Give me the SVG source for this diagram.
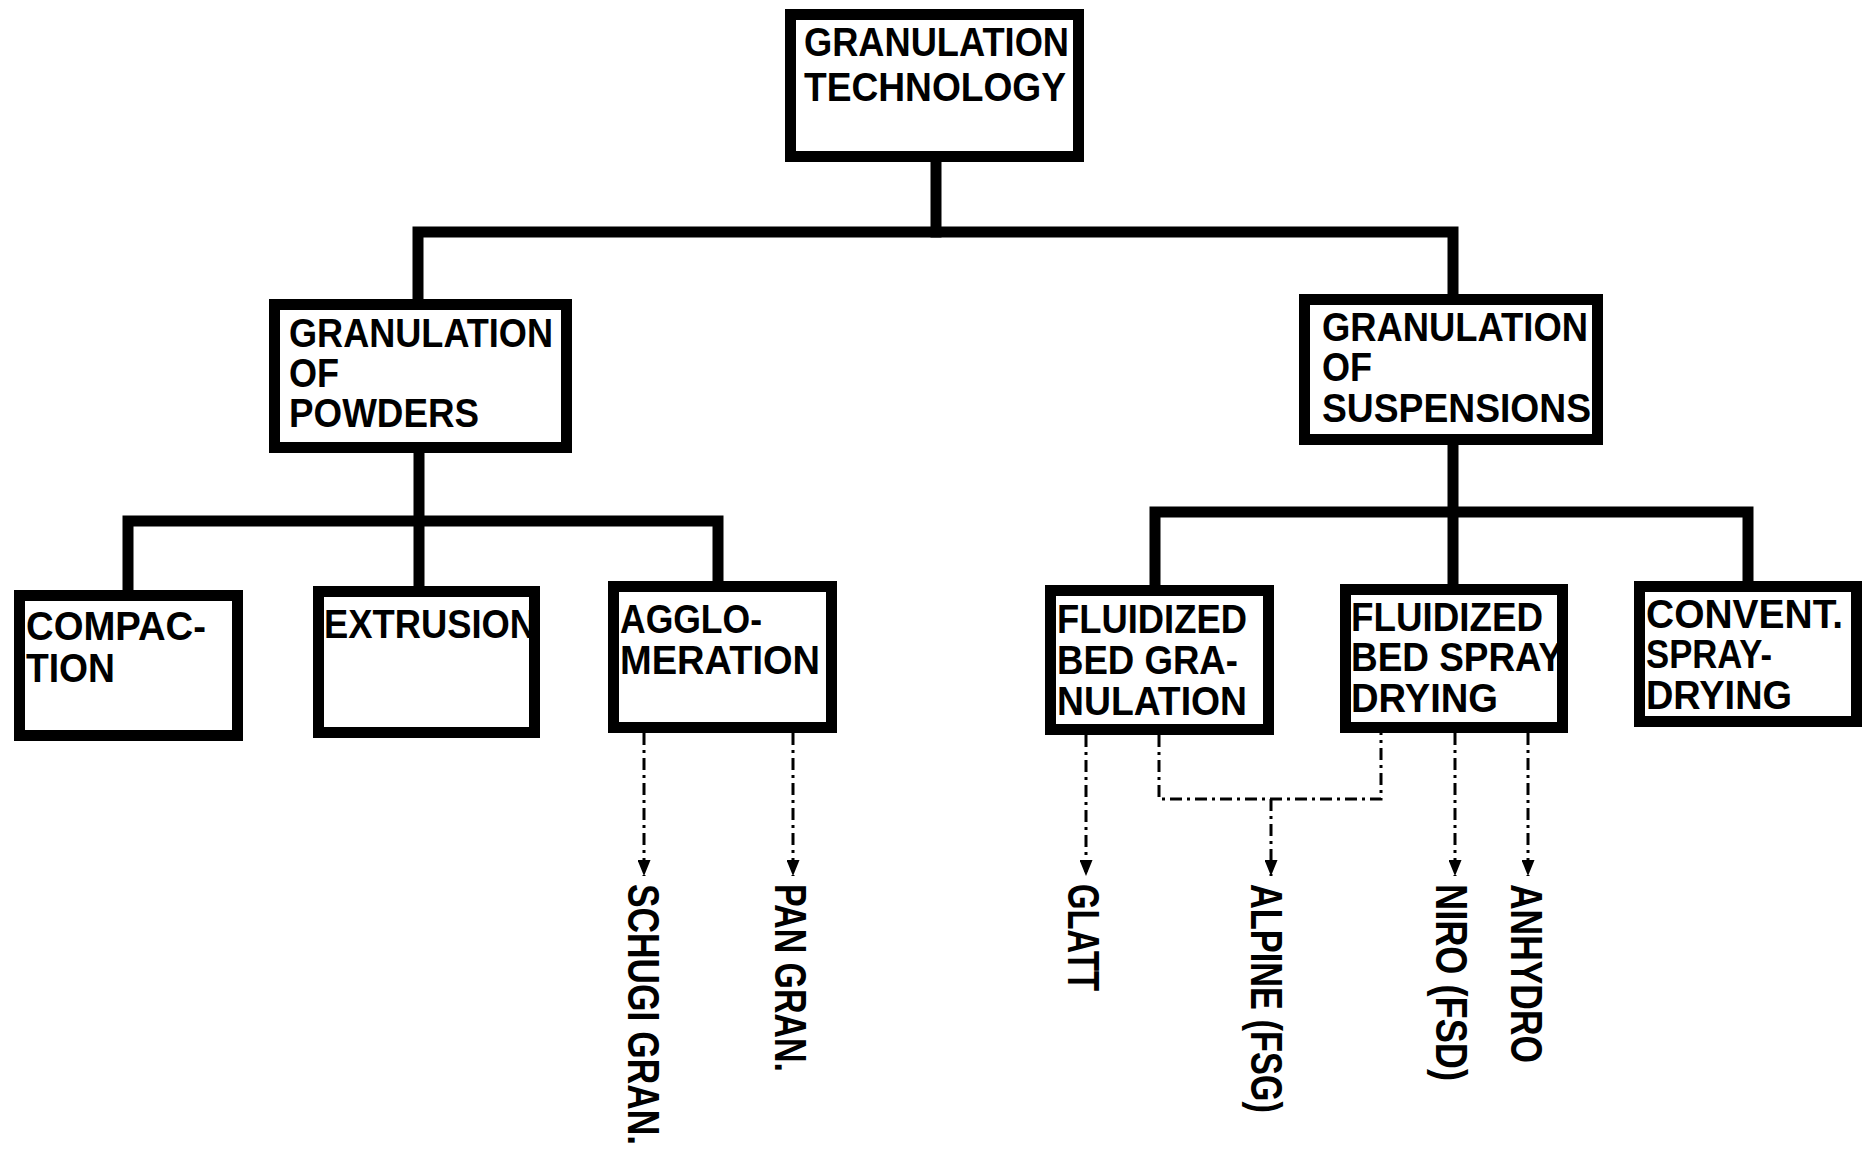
<svg xmlns="http://www.w3.org/2000/svg" width="1867" height="1152" viewBox="0 0 1867 1152">
  <style>
    .box { fill: #fff; stroke: #000; stroke-width: 11; stroke-linejoin: miter; }
    .tree { fill: none; stroke: #000; stroke-width: 11; stroke-linejoin: miter; stroke-linecap: square; }
    .lead { fill: none; stroke: #000; stroke-width: 3; stroke-dasharray: 12 5 3 5; }
    .lbl { font-family: "Liberation Sans", Arial, sans-serif; font-weight: bold; font-size: 40px; fill: #000; }
    .maker { font-family: "Liberation Sans", Arial, sans-serif; font-weight: bold; font-size: 44px; fill: #000; }
  </style>
  <defs>
    <marker id="tip" markerUnits="userSpaceOnUse" markerWidth="16" markerHeight="13" viewBox="0 0 16 13" refX="16" refY="6.5" orient="auto">
      <path d="M0,0 L16,6.5 L0,13 z" fill="#000"/>
    </marker>
  </defs>
  <rect width="1867" height="1152" fill="#fff"/>

  <!-- tree connectors and supplier leads -->
  <g id="connectors">
    <path class="tree" d="M936,162 V232"/>
    <path class="tree" d="M418,299 V232 H1453 V294"/>
    <path class="tree" d="M419,453 V586"/>
    <path class="tree" d="M128,590 V521 H718 V581"/>
    <path class="tree" d="M1453,445 V584"/>
    <path class="tree" d="M1155,585 V512 H1748 V581"/>

    <path class="lead" d="M644,733 V876" marker-end="url(#tip)"/>
    <path class="lead" d="M793,733 V876" marker-end="url(#tip)"/>
    <path class="lead" d="M1086,735 V876" marker-end="url(#tip)"/>
    <path class="lead" d="M1159,735 V799 H1381 V733"/>
    <path class="lead" d="M1271,799 V876" marker-end="url(#tip)"/>
    <path class="lead" d="M1455,733 V876" marker-end="url(#tip)"/>
    <path class="lead" d="M1528,733 V876" marker-end="url(#tip)"/>
  </g>

  <g id="n-technology">
    <rect class="box" x="790.5" y="14.5" width="288" height="142"/>
    <text class="lbl" x="804" y="56" textLength="265" lengthAdjust="spacingAndGlyphs">GRANULATION</text>
    <text class="lbl" x="804" y="101" textLength="262" lengthAdjust="spacingAndGlyphs">TECHNOLOGY</text>
  </g>

  <g id="n-powders">
    <rect class="box" x="274.5" y="304.5" width="292" height="143"/>
    <text class="lbl" x="289" y="347" textLength="264" lengthAdjust="spacingAndGlyphs">GRANULATION</text>
    <text class="lbl" x="289" y="387" textLength="50" lengthAdjust="spacingAndGlyphs">OF</text>
    <text class="lbl" x="289" y="427" textLength="190" lengthAdjust="spacingAndGlyphs">POWDERS</text>
  </g>

  <g id="n-suspensions">
    <rect class="box" x="1304.5" y="299.5" width="293" height="140"/>
    <text class="lbl" x="1322" y="341" textLength="266" lengthAdjust="spacingAndGlyphs">GRANULATION</text>
    <text class="lbl" x="1322" y="381" textLength="50" lengthAdjust="spacingAndGlyphs">OF</text>
    <text class="lbl" x="1322" y="422" textLength="269" lengthAdjust="spacingAndGlyphs">SUSPENSIONS</text>
  </g>

  <g id="n-compaction">
    <rect class="box" x="19.5" y="595.5" width="218" height="140"/>
    <text class="lbl" x="26" y="640" textLength="180" lengthAdjust="spacingAndGlyphs">COMPAC-</text>
    <text class="lbl" x="26" y="682" textLength="89" lengthAdjust="spacingAndGlyphs">TION</text>
  </g>

  <g id="n-extrusion">
    <rect class="box" x="318.5" y="591.5" width="216" height="141"/>
    <text class="lbl" x="324" y="638" textLength="212" lengthAdjust="spacingAndGlyphs">EXTRUSION</text>
  </g>

  <g id="n-agglomeration">
    <rect class="box" x="613.5" y="586.5" width="218" height="141"/>
    <text class="lbl" x="620" y="633" textLength="142" lengthAdjust="spacingAndGlyphs">AGGLO-</text>
    <text class="lbl" x="620" y="674" textLength="200" lengthAdjust="spacingAndGlyphs">MERATION</text>
  </g>

  <g id="n-fb-granulation">
    <rect class="box" x="1050.5" y="590.5" width="218" height="139"/>
    <text class="lbl" x="1057" y="633" textLength="190" lengthAdjust="spacingAndGlyphs">FLUIDIZED</text>
    <text class="lbl" x="1057" y="674" textLength="181" lengthAdjust="spacingAndGlyphs">BED GRA-</text>
    <text class="lbl" x="1057" y="715" textLength="190" lengthAdjust="spacingAndGlyphs">NULATION</text>
  </g>

  <g id="n-fb-spray-drying">
    <rect class="box" x="1345.5" y="589.5" width="217" height="138"/>
    <text class="lbl" x="1351" y="631" textLength="192" lengthAdjust="spacingAndGlyphs">FLUIDIZED</text>
    <text class="lbl" x="1351" y="671" textLength="212" lengthAdjust="spacingAndGlyphs">BED SPRAY</text>
    <text class="lbl" x="1351" y="712" textLength="147" lengthAdjust="spacingAndGlyphs">DRYING</text>
  </g>

  <g id="n-convent-spray-drying">
    <rect class="box" x="1639.5" y="586.5" width="217" height="135"/>
    <text class="lbl" x="1646" y="628" textLength="197" lengthAdjust="spacingAndGlyphs">CONVENT.</text>
    <text class="lbl" x="1646" y="668" textLength="126" lengthAdjust="spacingAndGlyphs">SPRAY-</text>
    <text class="lbl" x="1646" y="709" textLength="146" lengthAdjust="spacingAndGlyphs">DRYING</text>
  </g>

  <!-- equipment makers, set vertically -->
  <g id="m-schugi"><text class="maker" transform="translate(628,884) rotate(90)" textLength="261" lengthAdjust="spacingAndGlyphs">SCHUGI GRAN.</text></g>
  <g id="m-pan"><text class="maker" transform="translate(775,884) rotate(90)" textLength="188" lengthAdjust="spacingAndGlyphs">PAN GRAN.</text></g>
  <g id="m-glatt"><text class="maker" transform="translate(1068,884) rotate(90)" textLength="107" lengthAdjust="spacingAndGlyphs">GLATT</text></g>
  <g id="m-alpine"><text class="maker" transform="translate(1251,884) rotate(90)" textLength="229" lengthAdjust="spacingAndGlyphs">ALPINE (FSG)</text></g>
  <g id="m-niro"><text class="maker" transform="translate(1436,884) rotate(90)" textLength="197" lengthAdjust="spacingAndGlyphs">NIRO (FSD)</text></g>
  <g id="m-anhydro"><text class="maker" transform="translate(1511,884) rotate(90)" textLength="179" lengthAdjust="spacingAndGlyphs">ANHYDRO</text></g>
</svg>
